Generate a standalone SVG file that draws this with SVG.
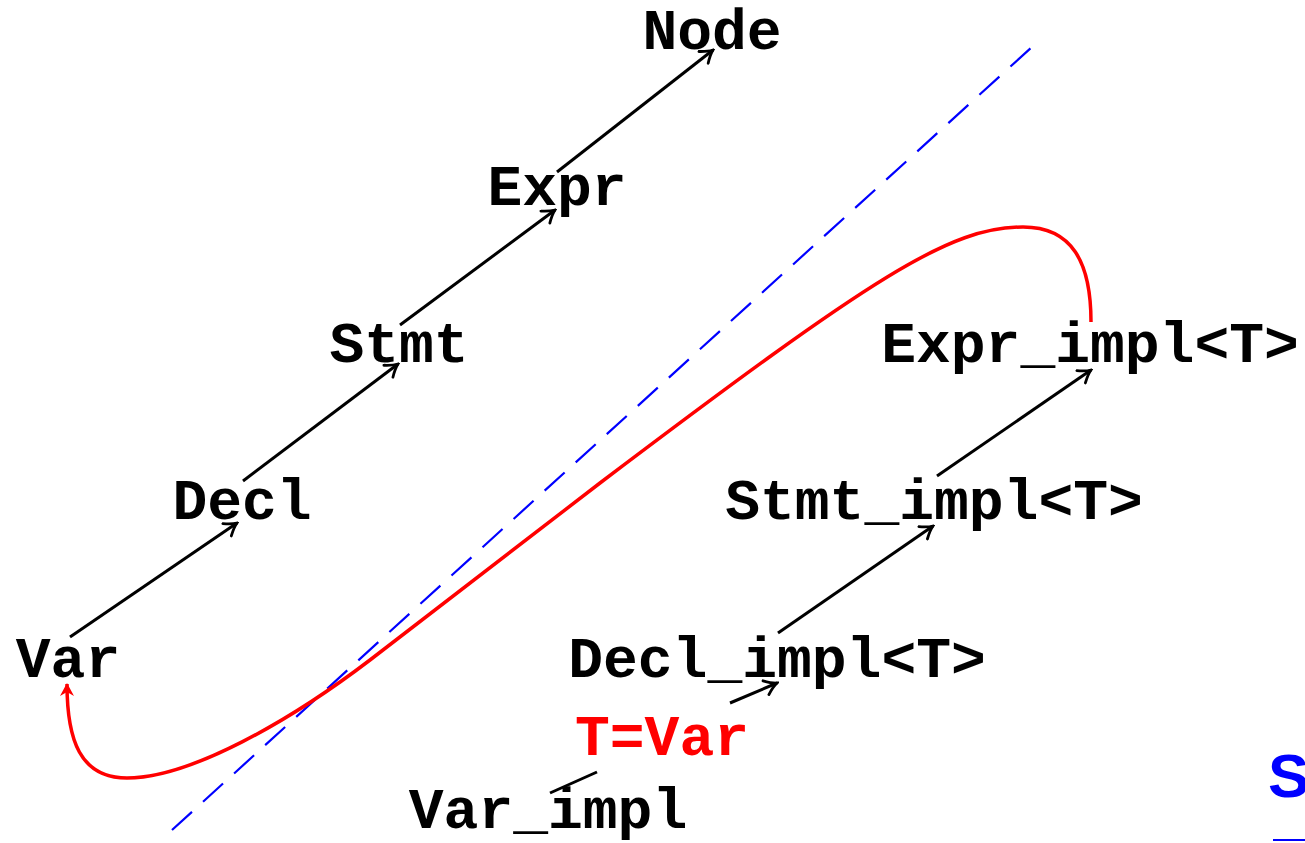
<svg xmlns="http://www.w3.org/2000/svg" width="1305" height="843" viewBox="0 0 1305 843">
<style>
.t{font-family:"Liberation Mono","Courier New",monospace;font-weight:bold;font-size:58px;text-anchor:middle;fill:#000}
.e{stroke:#000;stroke-width:3;fill:none}
</style>
<defs>
<marker id="ah" markerUnits="userSpaceOnUse" viewBox="-14 -9 16 18" markerWidth="16" markerHeight="18" refX="0" refY="0" orient="auto">
<path d="M-12,-7.5 Q-5,-1.8 0,0 Q-5,1.8 -12,7.5" fill="none" stroke="#000" stroke-width="2.8" stroke-linecap="round"/>
</marker>
<marker id="ahr" markerUnits="userSpaceOnUse" viewBox="-14 -8 16 16" markerWidth="16" markerHeight="16" refX="0" refY="0" orient="auto">
<path d="M1,0 L-12,-7 L-8,0 L-12,7 Z" fill="#f00"/>
</marker>
</defs>
<rect width="1305" height="843" fill="#fff"/>
<line x1="172" y1="830" x2="1033" y2="46" stroke="#00f" stroke-width="2.2" stroke-dasharray="27 15"/>
<g id="connectors">
<line class="e" x1="70" y1="637" x2="237" y2="523" marker-end="url(#ah)"/>
<line class="e" x1="243" y1="481" x2="398" y2="364" marker-end="url(#ah)"/>
<line class="e" x1="400" y1="325" x2="555" y2="210" marker-end="url(#ah)"/>
<line class="e" x1="557" y1="172" x2="713" y2="50" marker-end="url(#ah)"/>
<line class="e" x1="778" y1="633" x2="933" y2="526" marker-end="url(#ah)"/>
<line class="e" x1="937" y1="476" x2="1091" y2="370" marker-end="url(#ah)"/>
<line class="e" x1="550" y1="793" x2="597" y2="772"/>
<line class="e" x1="730" y1="703" x2="777" y2="683" marker-end="url(#ah)"/>
<path d="M1091,322 C1091,262 1072,227 1023,227 C950,227 875,275 600,483 L370,660 C290,721 190,778 127,778 C80,778 67,740 67,684" fill="none" stroke="#f00" stroke-width="3.5" marker-end="url(#ahr)"/>
</g>
<g id="Node"><text class="t" x="712" y="49">Node</text></g>
<g id="Expr"><text class="t" x="557" y="205">Expr</text></g>
<g id="Stmt"><text class="t" x="399" y="362">Stmt</text></g>
<g id="Decl"><text class="t" x="242" y="519">Decl</text></g>
<g id="Var"><text class="t" x="68" y="677">Var</text></g>
<g id="Expr_impl"><text class="t" x="1090" y="362">Expr_impl&lt;T&gt;</text></g>
<g id="Stmt_impl"><text class="t" x="934" y="519">Stmt_impl&lt;T&gt;</text></g>
<g id="Decl_impl"><text class="t" x="777" y="677">Decl_impl&lt;T&gt;</text></g>
<g id="Var_impl"><text class="t" x="548" y="828">Var_impl</text></g>
<g id="label"><text class="t" x="662" y="755" style="fill:#f00">T=Var</text></g>
<g id="S"><text x="1268" y="797" style="font-family:'Liberation Sans',Arial,sans-serif;font-weight:bold;font-size:62px;fill:#00f">S</text>
<line x1="1273" y1="840" x2="1305" y2="840" stroke="#00f" stroke-width="2"/></g>
</svg>
